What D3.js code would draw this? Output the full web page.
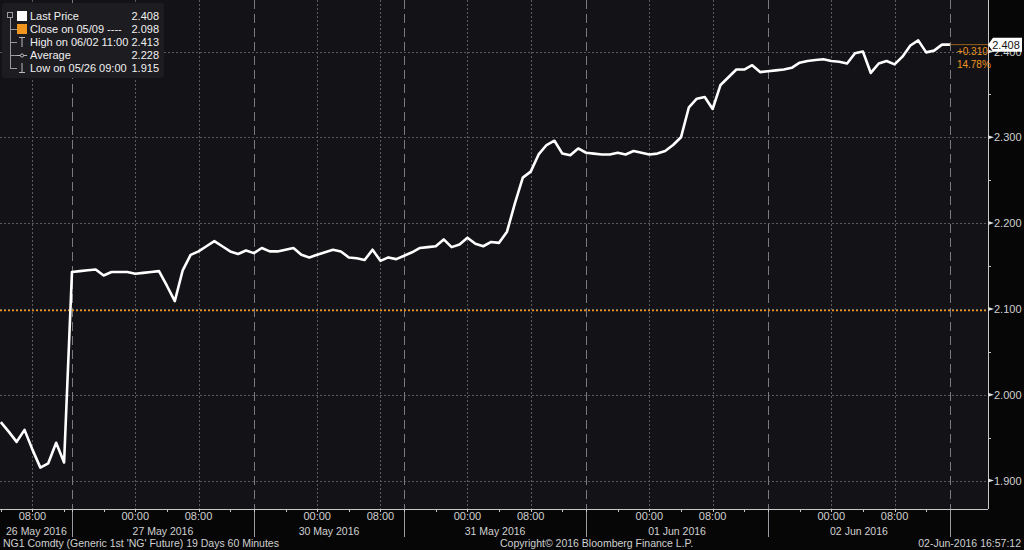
<!DOCTYPE html>
<html>
<head>
<meta charset="utf-8">
<script src="https://cdn.jsdelivr.net/npm/d3@7"></script>
<style>
  html, body { margin: 0; padding: 0; background: #060607; }
  svg { display: block; font-family: "Liberation Sans", Arial, sans-serif; }
</style>
</head>
<body>
<svg id="chart" width="1024" height="550"></svg>
<script>
// hourly closes, NG1 Comdty, one value per bar
const prices = [
  1.968, 1.957, 1.945, 1.959, 1.936, 1.915, 1.920, 1.944, 1.921,
  2.143, 2.144, 2.145, 2.146, 2.139, 2.143, 2.143, 2.143, 2.141, 2.142, 2.143, 2.144, 2.127, 2.109,
  2.145, 2.163, 2.167, 2.173, 2.179, 2.173, 2.167, 2.164, 2.168,
  2.165, 2.171, 2.167, 2.167, 2.169, 2.171, 2.163, 2.160, 2.163, 2.166, 2.169, 2.167, 2.160,
  2.159, 2.157, 2.169, 2.156, 2.160, 2.158,
  2.162, 2.166, 2.171, 2.172, 2.173, 2.181, 2.172, 2.175, 2.183, 2.176, 2.173, 2.178, 2.177,
  2.190, 2.223, 2.253, 2.260, 2.280, 2.291, 2.296, 2.281, 2.279, 2.287,
  2.282, 2.281, 2.280, 2.280, 2.282, 2.280, 2.284, 2.282, 2.280, 2.281, 2.284, 2.291, 2.300,
  2.335, 2.345, 2.347, 2.333, 2.361, 2.370, 2.379, 2.379, 2.384, 2.376,
  2.377, 2.378, 2.379, 2.381, 2.387, 2.389, 2.390, 2.391, 2.389, 2.388, 2.386, 2.398, 2.400,
  2.375, 2.386, 2.389, 2.385, 2.394, 2.407, 2.413, 2.399, 2.401, 2.408, 2.408
]

const sessions = ['26 May 2016', '27 May 2016', '30 May 2016', '31 May 2016', '01 Jun 2016', '02 Jun 2016']
const sessionStart = [0, 9, 32, 51, 74, 97]
const sessionFirstHour = [4, 16, 16, 16, 16, 16]

const yTicks = [1.9, 2.0, 2.1, 2.2, 2.3, 2.4]
const yMinor = [1.95, 2.05, 2.15, 2.25, 2.35]
const closeRef = 2.098

const legendRows = [
  { label: 'Last Price', value: '2.408', icon: 'white' },
  { label: 'Close on 05/09 ----', value: '2.098', icon: 'orange' },
  { label: 'High on 06/02 11:00', value: '2.413', icon: 'high' },
  { label: 'Average', value: '2.228', icon: 'avg' },
  { label: 'Low on 05/26 09:00', value: '1.915', icon: 'low' }
]
const lastChange = '+0.310', lastPct = '14.78%'
const footerLeft = "NG1 Comdty (Generic 1st 'NG' Future) 19 Days 60 Minutes"
const footerMid = 'Copyright\u00a9 2016 Bloomberg Finance L.P.'
const footerRight = '02-Jun-2016 16:57:12'

const width = 1024, height = 550
const plotRight = 988, axisY = 509
const orange = '#f0961e'

const svg = d3.select('#chart')

const last = prices.length - 1
const x = d3.scaleLinear().domain([0, last]).range([0.8, 949.9])
const y = d3.scaleLinear().domain([1.9, 2.4]).range([480.5, 51.5])

// hour label of each bar
const hours = prices.map((p, i) => {
  let s = 0
  sessionStart.forEach((st, k) => { if (i >= st) s = k })
  return (sessionFirstHour[s] + i - sessionStart[s]) % 24
})
const majorIdx = d3.range(prices.length).filter(i => hours[i] === 0 || hours[i] === 8)
const minorIdx = d3.range(prices.length).filter(i => hours[i] % 4 === 0 && !majorIdx.includes(i))

// plot background
svg.append('rect')
  .attr('x', 0).attr('y', 0)
  .attr('width', plotRight).attr('height', axisY)
  .attr('fill', '#131217')

// horizontal grid
svg.append('g')
  .selectAll('line')
  .data(yTicks)
  .enter()
  .append('line')
    .attr('x1', 0).attr('x2', plotRight)
    .attr('y1', d => Math.round(y(d)) + 0.5).attr('y2', d => Math.round(y(d)) + 0.5)
    .attr('stroke', '#5a5a5e')
    .attr('stroke-dasharray', '2,2')

// vertical grid on 00:00 / 08:00
svg.append('g')
  .selectAll('line')
  .data(majorIdx)
  .enter()
  .append('line')
    .attr('x1', d => Math.round(x(d)) + 0.5).attr('x2', d => Math.round(x(d)) + 0.5)
    .attr('y1', 0).attr('y2', axisY)
    .attr('stroke', '#5a5a5e')
    .attr('stroke-dasharray', '2,2')

// session separators
const seps = sessionStart.slice(1).concat([last])
svg.append('g')
  .selectAll('line')
  .data(seps)
  .enter()
  .append('line')
    .attr('x1', d => Math.round(x(d)) + 0.5).attr('x2', d => Math.round(x(d)) + 0.5)
    .attr('y1', 0).attr('y2', axisY)
    .attr('stroke', '#7a7a80')
    .attr('stroke-dasharray', '9,5')
svg.append('g')
  .selectAll('line')
  .data(seps)
  .enter()
  .append('line')
    .attr('x1', d => Math.round(x(d)) + 0.5).attr('x2', d => Math.round(x(d)) + 0.5)
    .attr('y1', axisY).attr('y2', 537)
    .attr('stroke', '#9a9aa0')

// close on 05/09 reference line
svg.append('line')
  .attr('x1', 0).attr('x2', plotRight)
  .attr('y1', y(closeRef)).attr('y2', y(closeRef))
  .attr('stroke', orange)
  .attr('stroke-width', 1.5)
  .attr('stroke-dasharray', '2,2')

// bottom axis
svg.append('line')
  .attr('x1', 0).attr('x2', plotRight)
  .attr('y1', axisY + 0.5).attr('y2', axisY + 0.5)
  .attr('stroke', '#c8c8c8')
svg.append('g')
  .selectAll('line')
  .data(majorIdx.concat(minorIdx))
  .enter()
  .append('line')
    .attr('x1', d => Math.round(x(d)) + 0.5).attr('x2', d => Math.round(x(d)) + 0.5)
    .attr('y1', axisY).attr('y2', axisY + 3)
    .attr('stroke', '#c8c8c8')
svg.append('g')
  .selectAll('text')
  .data(majorIdx)
  .enter()
  .append('text')
    .attr('x', d => x(d))
    .attr('y', 520)
    .attr('text-anchor', 'middle')
    .attr('fill', '#d0d0d0')
    .style('font-size', '11px')
    .text(d => d3.format('02d')(hours[d]) + ':00')
svg.append('g')
  .selectAll('text')
  .data(sessions)
  .enter()
  .append('text')
    .attr('x', (d, k) => {
      const a = sessionStart[k]
      const b = k + 1 < sessionStart.length ? sessionStart[k + 1] : last
      return x((a + b) / 2)
    })
    .attr('y', 535)
    .attr('text-anchor', 'middle')
    .attr('fill', '#d0d0d0')
    .style('font-size', '10.5px')
    .text(d => d)

// right axis
svg.append('line')
  .attr('x1', plotRight + 0.5).attr('x2', plotRight + 0.5)
  .attr('y1', 0).attr('y2', axisY)
  .attr('stroke', '#c8c8c8')
svg.append('g')
  .selectAll('path')
  .data(yTicks)
  .enter()
  .append('path')
    .attr('d', d => `M${plotRight},${y(d) - 2}L${plotRight + 6},${y(d)}L${plotRight},${y(d) + 2}Z`)
    .attr('fill', '#e0e0e0')
svg.append('g')
  .selectAll('line')
  .data(yMinor)
  .enter()
  .append('line')
    .attr('x1', plotRight).attr('x2', plotRight + 3)
    .attr('y1', d => Math.round(y(d)) + 0.5).attr('y2', d => Math.round(y(d)) + 0.5)
    .attr('stroke', '#c8c8c8')
svg.append('g')
  .selectAll('text')
  .data(yTicks)
  .enter()
  .append('text')
    .attr('x', plotRight + 6)
    .attr('y', d => y(d) + 4)
    .attr('fill', '#d0d0d0')
    .style('font-size', '11px')
    .text(d => d3.format('.3f')(d))

// price line
const line = d3.line()
  .x((d, i) => x(i))
  .y(d => y(d))
svg.append('path')
  .datum(prices)
  .attr('d', line)
  .attr('fill', 'none')
  .attr('stroke', '#ffffff')
  .attr('stroke-width', 2.6)
  .attr('stroke-linejoin', 'round')

// last price marker
const lastY = y(prices[last])
svg.append('line')
  .attr('x1', x(last)).attr('x2', plotRight)
  .attr('y1', lastY).attr('y2', lastY)
  .attr('stroke', orange)
  .attr('stroke-opacity', 0.6)
svg.append('text')
  .attr('x', x(last) + 7).attr('y', lastY + 10)
  .attr('fill', orange)
  .style('font-size', '10px')
  .text(lastChange)
svg.append('text')
  .attr('x', x(last) + 7).attr('y', lastY + 23)
  .attr('fill', orange)
  .style('font-size', '10px')
  .text(lastPct)
svg.append('path')
  .attr('d', `M${plotRight},${lastY}L${plotRight + 5},${lastY - 7}H1022V${lastY + 7}H${plotRight + 5}Z`)
  .attr('fill', '#ffffff')
svg.append('text')
  .attr('x', 1006).attr('y', lastY + 4)
  .attr('text-anchor', 'middle')
  .attr('fill', '#111')
  .style('font-size', '11px')
  .text(prices[last].toFixed(3))

// legend
const lg = svg.append('g')
lg.append('rect')
  .attr('x', 2).attr('y', 3).attr('width', 162).attr('height', 75)
  .attr('rx', 3)
  .attr('fill', '#1d1c21')
lg.append('rect')
  .attr('x', 7.5).attr('y', 12.5).attr('width', 5).attr('height', 5)
  .attr('fill', 'none').attr('stroke', '#999')
lg.append('line')
  .attr('x1', 10.5).attr('x2', 10.5).attr('y1', 18).attr('y2', 69)
  .attr('stroke', '#999')
const rowY = (d, k) => 16 + k * 13
const rows = lg.selectAll('g.row')
  .data(legendRows)
  .enter()
  .append('g')
    .attr('class', 'row')
    .attr('transform', (d, k) => `translate(0,${rowY(d, k)})`)
rows.filter((d, k) => k > 0)
  .append('line')
    .attr('x1', 10.5).attr('x2', 17).attr('y1', 0.5).attr('y2', 0.5)
    .attr('stroke', '#999')
rows.filter(d => d.icon === 'white' || d.icon === 'orange')
  .append('rect')
    .attr('x', 17).attr('y', -5).attr('width', 10).attr('height', 10)
    .attr('fill', d => d.icon === 'white' ? '#fff' : orange)
rows.filter(d => d.icon === 'high')
  .append('path')
    .attr('d', 'M19,-4.5H25M22,-4.5V5')
    .attr('stroke', '#bbb').attr('fill', 'none')
rows.filter(d => d.icon === 'low')
  .append('path')
    .attr('d', 'M22,-5V4.5M19,4.5H25')
    .attr('stroke', '#bbb').attr('fill', 'none')
rows.filter(d => d.icon === 'avg')
  .append('path')
    .attr('d', 'M17,0.5H27')
    .attr('stroke', '#bbb')
rows.filter(d => d.icon === 'avg')
  .append('circle')
    .attr('cx', 22).attr('cy', 0.5).attr('r', 1.6)
    .attr('fill', '#1d1c21').attr('stroke', '#bbb')
rows.append('text')
  .attr('x', 30).attr('y', 4)
  .attr('fill', '#f0f0f0')
  .style('font-size', '11px')
  .text(d => d.label)
rows.append('text')
  .attr('x', 159).attr('y', 4)
  .attr('text-anchor', 'end')
  .attr('fill', '#f0f0f0')
  .style('font-size', '11px')
  .text(d => d.value)

// footer
svg.append('text')
  .attr('x', 3).attr('y', 547)
  .attr('fill', '#cfcfcf')
  .style('font-size', '10.5px')
  .text(footerLeft)
svg.append('text')
  .attr('x', 500).attr('y', 547)
  .attr('fill', '#cfcfcf')
  .style('font-size', '10.5px')
  .text(footerMid)
svg.append('text')
  .attr('x', 1021).attr('y', 547)
  .attr('text-anchor', 'end')
  .attr('fill', '#cfcfcf')
  .style('font-size', '10.5px')
  .text(footerRight)
</script>
</body>
</html>
